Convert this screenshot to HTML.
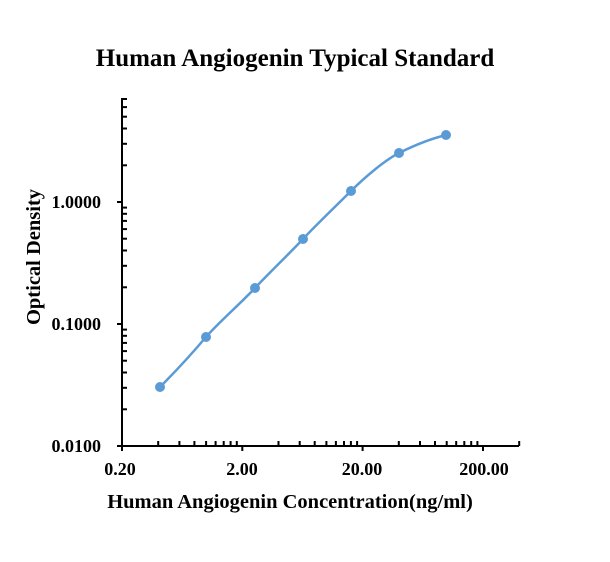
<!DOCTYPE html>
<html><head><style>body{margin:0;background:#fff}</style></head><body>
<svg width="610" height="557" xmlns="http://www.w3.org/2000/svg" font-family="Liberation Serif, serif" font-weight="bold">
<rect width="610" height="557" fill="#fff"/>
<text x="295" y="66" font-size="25" text-anchor="middle">Human Angiogenin Typical Standard</text>
<text x="290" y="508" font-size="20.5" text-anchor="middle">Human Angiogenin Concentration(ng/ml)</text>
<text transform="translate(40,257) rotate(-90)" font-size="20.5" text-anchor="middle">Optical Density</text>
<g stroke="#000" stroke-width="2" fill="none">
<line x1="122" y1="98" x2="122" y2="447"/>
<line x1="121" y1="446" x2="519" y2="446"/>
<line x1="117" y1="446" x2="123" y2="446"/><line x1="117" y1="324" x2="123" y2="324"/><line x1="117" y1="202" x2="123" y2="202"/>
<line x1="122" y1="409.3" x2="127" y2="409.3"/><line x1="122" y1="387.8" x2="127" y2="387.8"/><line x1="122" y1="372.5" x2="127" y2="372.5"/><line x1="122" y1="360.7" x2="127" y2="360.7"/><line x1="122" y1="351.1" x2="127" y2="351.1"/><line x1="122" y1="342.9" x2="127" y2="342.9"/><line x1="122" y1="335.8" x2="127" y2="335.8"/><line x1="122" y1="329.6" x2="127" y2="329.6"/>
<line x1="122" y1="287.3" x2="127" y2="287.3"/><line x1="122" y1="265.8" x2="127" y2="265.8"/><line x1="122" y1="250.5" x2="127" y2="250.5"/><line x1="122" y1="238.7" x2="127" y2="238.7"/><line x1="122" y1="229.1" x2="127" y2="229.1"/><line x1="122" y1="220.9" x2="127" y2="220.9"/><line x1="122" y1="213.8" x2="127" y2="213.8"/><line x1="122" y1="207.6" x2="127" y2="207.6"/>
<line x1="122" y1="165.3" x2="127" y2="165.3"/><line x1="122" y1="143.8" x2="127" y2="143.8"/><line x1="122" y1="128.5" x2="127" y2="128.5"/><line x1="122" y1="116.7" x2="127" y2="116.7"/><line x1="122" y1="107.1" x2="127" y2="107.1"/><line x1="122" y1="99" x2="127" y2="99"/>
<line x1="122" y1="446" x2="122" y2="451"/><line x1="242.3" y1="446" x2="242.3" y2="451"/><line x1="362.6" y1="446" x2="362.6" y2="451"/><line x1="483" y1="446" x2="483" y2="451"/>
</g>
<g stroke="#000" stroke-width="2">
<path d="M158.2,441v5M179.4,441v5M194.4,441v5M206.1,441v5M215.6,441v5M223.7,441v5M230.6,441v5M236.8,441v5
M278.5,441v5M299.7,441v5M314.7,441v5M326.4,441v5M335.9,441v5M344,441v5M350.9,441v5M357.1,441v5
M398.8,441v5M420,441v5M435,441v5M446.7,441v5M456.2,441v5M464.3,441v5M471.2,441v5M477.4,441v5
M519.2,441v5"/>
</g>
<g font-size="18" text-anchor="end">
<text x="101" y="452">0.0100</text><text x="101" y="330">0.1000</text><text x="101" y="208">1.0000</text>
</g>
<g font-size="18" text-anchor="middle">
<text x="120" y="475">0.20</text><text x="242" y="475">2.00</text><text x="362" y="475">20.00</text><text x="484" y="475">200.00</text>
</g>
<path d="M160,387 C180,367 195,350 206,337 S240,304 255,288 S290,253 303,239 S338,204 351,191 S385,160 399,153 S430,139 446,135" fill="none" stroke="#5b9bd5" stroke-width="2.5"/>
<g fill="#5b9bd5">
<circle cx="160" cy="387" r="5"/><circle cx="206" cy="337" r="5"/><circle cx="255" cy="288" r="5"/><circle cx="303" cy="239" r="5"/><circle cx="351" cy="191" r="5"/><circle cx="399" cy="153" r="5"/><circle cx="446" cy="135" r="5"/>
</g>
</svg>
</body></html>
